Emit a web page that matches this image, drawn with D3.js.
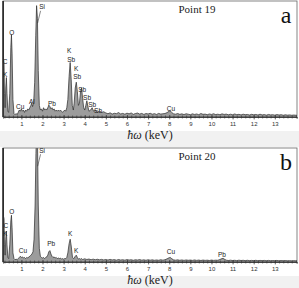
<!DOCTYPE html>
<html>
<head>
<meta charset="utf-8">
<script src="https://cdn.jsdelivr.net/npm/d3@7"></script>
<style>
  body { margin: 0; background: #fff; }
  svg { display: block; }
</style>
</head>
<body>
<svg id="chart" width="299" height="288"></svg>
<script>
// EDS spectra, [energy keV, relative counts]
const spectrumA = [
  [0.13, 100], [0.145, 100], [0.155, 50], [0.18, 46], [0.2, 20], [0.23, 8], [0.26, 25], [0.29, 34],
  [0.32, 20], [0.36, 5], [0.4, 4], [0.45, 20], [0.5, 60], [0.53, 71], [0.56, 55], [0.6, 15],
  [0.65, 3], [0.7, 2], [0.75, 3], [0.8, 2], [0.85, 4], [0.9, 6], [0.95, 5], [1.0, 7], [1.05, 5],
  [1.1, 6], [1.15, 4], [1.2, 6], [1.25, 5], [1.3, 7], [1.35, 6], [1.4, 8], [1.45, 10], [1.49, 12],
  [1.53, 9], [1.58, 12], [1.63, 30], [1.68, 70], [1.72, 96], [1.76, 85], [1.8, 40], [1.85, 10],
  [1.9, 6], [1.95, 7], [2.0, 5], [2.05, 8], [2.1, 6], [2.15, 7], [2.2, 6], [2.25, 8], [2.3, 10],
  [2.35, 9], [2.4, 7], [2.45, 8], [2.5, 6], [2.55, 7], [2.6, 5], [2.65, 6], [2.7, 5], [2.75, 6],
  [2.8, 5], [2.85, 6], [2.9, 5], [2.95, 4], [3.0, 5], [3.05, 6], [3.1, 5], [3.15, 8], [3.2, 15],
  [3.26, 35], [3.31, 47], [3.36, 32], [3.41, 10], [3.46, 6], [3.5, 12], [3.55, 25], [3.6, 30],
  [3.65, 22], [3.7, 10], [3.75, 12], [3.8, 22], [3.85, 25], [3.9, 16], [3.95, 8], [4.0, 6],
  [4.05, 10], [4.1, 14], [4.15, 9], [4.2, 5], [4.28, 6], [4.35, 8], [4.42, 5], [4.5, 6], [4.6, 4],
  [4.7, 5], [4.8, 4], [4.9, 4.5], [5.0, 3.5], [5.1, 2.8], [5.2, 3.6], [5.3, 2.5], [5.4, 3.2],
  [5.5, 2.9], [5.6, 3.8], [5.7, 2.6], [5.8, 3.1], [5.9, 2.4], [6.0, 3.3], [6.1, 2.7], [6.2, 3.5],
  [6.3, 2.3], [6.4, 3.0], [6.5, 3.4], [6.6, 2.5], [6.7, 3.1], [6.8, 2.2], [6.9, 3.0], [7.0, 2.6],
  [7.1, 3.2], [7.2, 2.4], [7.3, 2.9], [7.4, 2.2], [7.5, 3.1], [7.6, 2.5], [7.7, 2.8], [7.8, 3.0],
  [7.9, 3.8], [8.0, 5.0], [8.05, 5.2], [8.1, 4.2], [8.2, 2.8], [8.3, 2.4], [8.4, 3.0], [8.5, 2.3],
  [8.6, 2.7], [8.7, 2.1], [8.8, 2.8], [8.9, 2.4], [9.0, 2.0], [9.1, 2.7], [9.2, 2.2], [9.3, 2.6],
  [9.4, 2.0], [9.5, 3.0], [9.6, 2.3], [9.7, 2.5], [9.8, 2.0], [9.9, 2.6], [10.0, 2.2], [10.1, 2.8],
  [10.2, 2.1], [10.3, 2.4], [10.4, 2.0], [10.5, 2.7], [10.6, 2.2], [10.7, 2.5], [10.8, 1.9],
  [10.9, 2.4], [11.0, 2.0], [11.1, 2.6], [11.2, 2.0], [11.3, 2.3], [11.4, 1.8], [11.5, 2.4],
  [11.6, 2.0], [11.7, 2.2], [11.8, 1.7], [11.9, 2.3], [12.0, 1.9], [12.1, 2.2], [12.2, 1.7],
  [12.3, 2.4], [12.4, 1.8], [12.5, 2.1], [12.6, 1.6], [12.7, 2.2], [12.8, 1.8], [12.9, 2.0],
  [13.0, 1.6], [13.1, 2.1], [13.2, 1.7], [13.3, 2.0], [13.4, 1.5], [13.5, 1.9], [13.6, 1.6],
  [13.7, 1.8], [13.8, 1.5], [13.9, 1.7], [14.0, 1.5], [14.05, 1.6]
];

const spectrumB = [
  [0.13, 105], [0.145, 105], [0.155, 40], [0.18, 38], [0.2, 15], [0.23, 6], [0.26, 20], [0.29, 27],
  [0.32, 15], [0.36, 4], [0.4, 3], [0.45, 15], [0.5, 36], [0.53, 41], [0.56, 30], [0.6, 8],
  [0.65, 3], [0.7, 2], [0.75, 2.5], [0.8, 2], [0.85, 3], [0.9, 4], [0.95, 5], [1.0, 4], [1.05, 4.5],
  [1.1, 3.5], [1.15, 4], [1.2, 3], [1.25, 4], [1.3, 3.5], [1.35, 4.5], [1.4, 5], [1.45, 6],
  [1.5, 7], [1.55, 9], [1.6, 20], [1.65, 50], [1.69, 95], [1.72, 118], [1.76, 112], [1.8, 50],
  [1.85, 12], [1.9, 5], [1.95, 4], [2.0, 3.5], [2.05, 4], [2.1, 3], [2.15, 4], [2.2, 4.5],
  [2.25, 6], [2.3, 9], [2.35, 10], [2.4, 7], [2.45, 5], [2.5, 4], [2.55, 4.5], [2.6, 3.5],
  [2.65, 4], [2.7, 3], [2.75, 3.5], [2.8, 3], [2.85, 3.5], [2.9, 2.5], [2.95, 3], [3.0, 2.5],
  [3.05, 3], [3.1, 3], [3.15, 4], [3.2, 8], [3.26, 16], [3.31, 20], [3.36, 14], [3.42, 4],
  [3.48, 3], [3.55, 5], [3.6, 6], [3.65, 4], [3.7, 2.5], [3.75, 3], [3.8, 2.5], [3.85, 3],
  [3.9, 2.2], [4.0, 2.8], [4.1, 2.2], [4.2, 2.6], [4.3, 2.0], [4.4, 2.5], [4.5, 2.0], [4.6, 2.4],
  [4.7, 1.9], [4.8, 2.3], [4.9, 1.8], [5.0, 2.2], [5.1, 1.7], [5.2, 2.3], [5.3, 1.8], [5.4, 2.1],
  [5.5, 1.6], [5.6, 2.2], [5.7, 1.7], [5.8, 2.0], [5.9, 1.6], [6.0, 2.1], [6.1, 1.7], [6.2, 2.0],
  [6.3, 1.5], [6.4, 2.0], [6.5, 1.7], [6.6, 2.1], [6.7, 1.6], [6.8, 1.9], [6.9, 1.5], [7.0, 2.0],
  [7.1, 1.6], [7.2, 1.9], [7.3, 1.5], [7.4, 1.8], [7.5, 1.5], [7.6, 2.0], [7.7, 1.6], [7.8, 2.0],
  [7.9, 2.8], [8.0, 3.8], [8.05, 4.0], [8.1, 3.2], [8.2, 1.9], [8.3, 1.6], [8.4, 1.9], [8.5, 1.5],
  [8.6, 1.8], [8.7, 1.4], [8.8, 1.8], [8.9, 1.5], [9.0, 1.7], [9.1, 1.4], [9.2, 1.8], [9.3, 1.4],
  [9.4, 1.7], [9.5, 1.3], [9.6, 1.7], [9.7, 1.4], [9.8, 1.6], [9.9, 1.3], [10.0, 1.7], [10.1, 1.4],
  [10.2, 1.6], [10.3, 1.5], [10.4, 2.2], [10.5, 3.0], [10.55, 3.2], [10.6, 2.6], [10.7, 1.6],
  [10.8, 1.3], [10.9, 1.6], [11.0, 1.3], [11.1, 1.5], [11.2, 1.2], [11.3, 1.6], [11.4, 1.3],
  [11.5, 1.5], [11.6, 1.2], [11.7, 1.5], [11.8, 1.2], [11.9, 1.4], [12.0, 1.2], [12.1, 1.5],
  [12.2, 1.1], [12.3, 1.4], [12.4, 1.2], [12.5, 1.4], [12.6, 1.1], [12.7, 1.4], [12.8, 1.1],
  [12.9, 1.3], [13.0, 1.1], [13.1, 1.4], [13.2, 1.0], [13.3, 1.3], [13.4, 1.1], [13.5, 1.3],
  [13.6, 1.0], [13.7, 1.2], [13.8, 1.0], [13.9, 1.2], [14.0, 1.0], [14.05, 1.1]
];

// peak labels: [text, energy keV, height in count units]
const labelsA = [
  ["C", 0.23, 48], ["K", 0.23, 37], ["O", 0.545, 73], ["Cu", 0.94, 9], ["Al", 1.5, 13],
  ["Si", 1.98, 95], ["Pb", 2.45, 12], ["K", 3.26, 57], ["Sb", 3.36, 50], ["K", 3.59, 42],
  ["Sb", 3.64, 34.5], ["Sb", 3.88, 24], ["Sb", 4.11, 17], ["Sb", 4.35, 11], ["Sb", 4.63, 6],
  ["Cu", 8.08, 7]
];
const labelsB = [
  ["C", 0.26, 32], ["K", 0.23, 25], ["O", 0.545, 44], ["Cu", 1.07, 10], ["Si", 1.98, 98],
  ["Pb", 2.41, 16], ["K", 3.31, 25], ["K", 3.59, 10], ["Cu", 8.08, 9], ["Pb", 10.5, 7]
];

const tickLabels = [1, 2, 3, 4, 5, 6, 7, 8, 9, 10, 11, 12, 13];
const energyDomain = [0.13, 14.05];

const svg = d3.select("#chart");

const panels = [
  { spectrum: spectrumA, labels: labelsA, name: "Point 19", letter: "a", top: 1, bottom: 117 },
  { spectrum: spectrumB, labels: labelsB, name: "Point 20", letter: "b", top: 148, bottom: 262 }
];

const x = d3.scaleLinear().domain(energyDomain).range([3, 297]);

panels.forEach((p, i) => {
  const y = d3.scaleLinear().domain([0, 100]).range([p.bottom, p.top]);
  const g = svg.append("g");

  // grey strip behind the axis title
  g.append("rect")
    .attr("x", 0).attr("y", p.bottom + 14)
    .attr("width", 299).attr("height", 16)
    .attr("fill", "#f1f1f1");

  g.append("clipPath").attr("id", "clip" + i)
    .append("rect")
    .attr("x", x.range()[0]).attr("y", p.top)
    .attr("width", x.range()[1] - x.range()[0]).attr("height", p.bottom - p.top);

  const area = d3.area()
    .x(d => x(d[0]))
    .y0(y(0))
    .y1(d => y(d[1]));

  g.append("path")
    .datum(p.spectrum)
    .attr("clip-path", `url(#clip${i})`)
    .attr("d", area)
    .attr("fill", "#9c9c9c")
    .attr("stroke", "#2a2a2a")
    .attr("stroke-width", 0.7)
    .attr("stroke-linejoin", "round");

  // frame
  g.append("rect")
    .attr("x", x.range()[0]).attr("y", p.top)
    .attr("width", x.range()[1] - x.range()[0]).attr("height", p.bottom - p.top)
    .attr("fill", "none")
    .attr("stroke", "#666")
    .attr("stroke-width", 0.8);
  g.append("line")
    .attr("x1", x.range()[0]).attr("x2", x.range()[0])
    .attr("y1", p.top).attr("y2", p.bottom)
    .attr("stroke", "#111").attr("stroke-width", 1.2);

  // minor ticks
  const minorAxis = d3.axisBottom(x)
    .tickValues(d3.range(0.2, 14.01, 0.2))
    .tickSize(1.5)
    .tickFormat("");
  const minor = g.append("g")
    .attr("transform", `translate(0,${p.bottom})`)
    .call(minorAxis);
  minor.select(".domain").attr("stroke", "#222").attr("stroke-width", 0.8);
  minor.selectAll(".tick line").attr("y1", -1.5).attr("stroke", "#333").attr("stroke-width", 0.6);

  // labelled ticks
  const majorAxis = d3.axisBottom(x)
    .tickValues(tickLabels)
    .tickSize(2.5)
    .tickPadding(2.5)
    .tickFormat(d3.format("d"));
  const major = g.append("g")
    .attr("transform", `translate(0,${p.bottom})`)
    .call(majorAxis);
  major.select(".domain").remove();
  major.selectAll(".tick line").attr("y1", -2).attr("stroke", "#333").attr("stroke-width", 0.6);
  major.selectAll(".tick text")
    .attr("font-family", "Liberation Sans, Arial, sans-serif")
    .attr("font-size", 6)
    .attr("fill", "#333");

  // axis title
  const title = g.append("text")
    .attr("x", 150).attr("y", p.bottom + 22)
    .attr("text-anchor", "middle")
    .attr("font-family", "Liberation Serif, Times New Roman, serif")
    .attr("font-size", 12)
    .attr("fill", "#222");
  title.append("tspan").attr("font-style", "italic").text("ħω");
  title.append("tspan").text(" (keV)");

  // peak labels
  g.selectAll(".peak")
    .data(p.labels)
    .enter().append("text")
    .attr("class", "peak")
    .attr("x", d => x(d[1]))
    .attr("y", d => y(d[2]))
    .attr("text-anchor", "middle")
    .attr("dominant-baseline", "central")
    .attr("font-family", "Liberation Sans, Arial, sans-serif")
    .attr("font-size", 6.5)
    .attr("fill", "#222")
    .text(d => d[0]);

  // leader from Si label to its peak
  const si = p.labels.find(d => d[0] === "Si");
  g.append("line")
    .attr("x1", x(si[1]) - 1.5).attr("y1", y(si[2]) + 4)
    .attr("x2", x(1.77)).attr("y2", y(si[2] - 14))
    .attr("stroke", "#333").attr("stroke-width", 0.6);

  g.append("text")
    .attr("x", 197).attr("y", p.top + 12)
    .attr("text-anchor", "middle")
    .attr("font-family", "Liberation Serif, Times New Roman, serif")
    .attr("font-size", 11)
    .attr("fill", "#222")
    .text(p.name);

  g.append("text")
    .attr("x", 286).attr("y", p.top + 22)
    .attr("text-anchor", "middle")
    .attr("font-family", "Liberation Serif, Times New Roman, serif")
    .attr("font-size", 24)
    .attr("fill", "#111")
    .text(p.letter);
});
</script>
</body>
</html>
